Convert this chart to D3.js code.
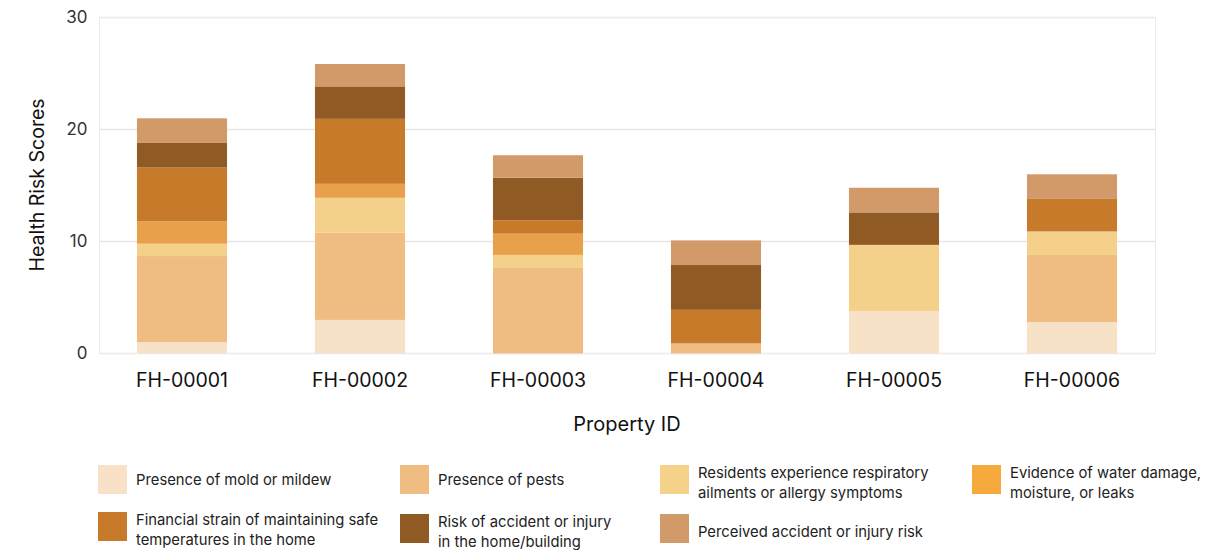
<!DOCTYPE html>
<html>
<head>
<meta charset="utf-8">
<script src="https://cdn.jsdelivr.net/npm/d3@7"></script>
<style>
  body { margin: 0; background: #fff; }
  svg { display: block; font-family: Inter, "Open Sans", sans-serif; }
</style>
</head>
<body>
<svg id="chart" width="1232" height="550"></svg>
<script>
const properties = ['FH-00001', 'FH-00002', 'FH-00003', 'FH-00004', 'FH-00005', 'FH-00006'];
const seriesNames = [
  'Presence of mold or mildew',
  'Presence of pests',
  'Residents experience respiratory ailments or allergy symptoms',
  'Evidence of water damage, moisture, or leaks',
  'Financial strain of maintaining safe temperatures in the home',
  'Risk of accident or injury in the home/building',
  'Perceived accident or injury risk',
];
// legend wraps text onto these lines
const legendLines = [
  ['Presence of mold or mildew'],
  ['Presence of pests'],
  ['Residents experience respiratory', 'ailments or allergy symptoms'],
  ['Evidence of water damage,', 'moisture, or leaks'],
  ['Financial strain of maintaining safe', 'temperatures in the home'],
  ['Risk of accident or injury', 'in the home/building'],
  ['Perceived accident or injury risk'],
];
const mold = [1.0, 3.0, 0, 0, 3.8, 2.8];
const pests = [7.7, 7.8, 7.7, 0.9, 0, 6.0];
const respiratory = [1.1, 3.1, 1.1, 0, 5.9, 2.1];
const water = [2.0, 1.25, 1.9, 0, 0, 0];
const financial = [4.8, 5.8, 1.2, 3.0, 0, 2.9];
const accident = [2.2, 2.9, 3.8, 4.0, 2.9, 0];
const perceived = [2.2, 2.0, 2.0, 2.2, 2.2, 2.2];
const yTicks = [0, 10, 20, 30];

const barColors = ['#f7e1c7', '#efbd82', '#f5d08a', '#e8a14a', '#c67a2a', '#905a24', '#d39a69'];
const legendColors = ['#f8e1c7', '#efbd82', '#f5d18a', '#f6aa3e', '#c67a2a', '#905a24', '#d39a69'];

const seriesValues = [mold, pests, respiratory, water, financial, accident, perceived];
const table = properties.map((p, i) => {
  const row = { id: p };
  seriesNames.forEach((s, k) => { row[s] = seriesValues[k][i]; });
  return row;
});

const svg = d3.select('#chart');
const plot = { left: 99.5, right: 1155.5, top: 17.5, bottom: 353.5 };

const x = d3.scaleBand()
  .domain(properties)
  .range([93, 1161])
  .paddingInner(0.494)
  .paddingOuter(0.247);
const y = d3.scaleLinear().domain([0, 30]).range([plot.bottom, plot.top]);

// grid + frame
svg.append('g')
  .selectAll('line')
  .data(yTicks)
  .join('line')
  .attr('x1', plot.left)
  .attr('x2', plot.right)
  .attr('y1', d => y(d))
  .attr('y2', d => y(d))
  .attr('stroke', '#e6e6e6')
  .attr('stroke-width', 1.5);
svg.append('rect')
  .attr('x', plot.left)
  .attr('y', plot.top)
  .attr('width', plot.right - plot.left)
  .attr('height', plot.bottom - plot.top)
  .attr('fill', 'none')
  .attr('stroke', '#ececec')
  .attr('stroke-width', 1);

const stack = d3.stack().keys(seriesNames)(table);

svg.append('g')
  .selectAll('g')
  .data(stack)
  .join('g')
  .attr('fill', (d, i) => barColors[i])
  .selectAll('rect')
  .data(d => d)
  .join('rect')
  .attr('x', d => x(d.data.id))
  .attr('width', x.bandwidth())
  .attr('y', d => y(d[1]))
  .attr('height', d => y(d[0]) - y(d[1]));

// y axis
const yAxis = svg.append('g')
  .attr('transform', `translate(${plot.left - 12},0)`)
  .call(d3.axisLeft(y).tickValues(yTicks).tickSize(0).tickPadding(0));
yAxis.select('.domain').remove();
yAxis.selectAll('text')
  .attr('font-size', 17)
  .attr('fill', '#333')
  .attr('font-family', 'Inter, sans-serif');

// x axis
const xAxis = svg.append('g')
  .attr('transform', `translate(0,${plot.bottom})`)
  .call(d3.axisBottom(x).tickSize(0).tickPadding(20));
xAxis.select('.domain').remove();
xAxis.selectAll('text')
  .attr('font-size', 19.5)
  .attr('fill', '#111')
  .attr('font-family', 'Inter, sans-serif');

svg.append('text')
  .attr('x', 627)
  .attr('y', 431)
  .attr('text-anchor', 'middle')
  .attr('font-size', 20)
  .attr('fill', '#111')
  .text('Property ID');

svg.append('text')
  .attr('transform', 'translate(44,185) rotate(-90)')
  .attr('text-anchor', 'middle')
  .attr('font-size', 19.5)
  .attr('fill', '#111')
  .text('Health Risk Scores');

// legend
const legendPos = [
  [98, 465], [400, 465], [660, 465], [972, 465],
  [98, 512], [400, 514], [660, 514],
];
const item = svg.append('g')
  .selectAll('g')
  .data(seriesNames)
  .join('g')
  .attr('transform', (d, i) => `translate(${legendPos[i][0]},${legendPos[i][1]})`);
item.append('rect')
  .attr('width', 29)
  .attr('height', 29)
  .attr('fill', (d, i) => legendColors[i]);
item.each(function (d, i) {
  const lines = legendLines[i];
  const shift = i === 6 || lines.length > 1 ? 3 : 0;
  const t = d3.select(this).append('text')
    .attr('font-size', 14.8)
    .attr('fill', '#222');
  lines.forEach((l, k) => {
    t.append('tspan')
      .attr('x', 38)
      .attr('y', 14.5 + shift + (k - (lines.length - 1) / 2) * 20)
      .attr('dy', '0.35em')
      .text(l);
  });
});
</script>
</body>
</html>
